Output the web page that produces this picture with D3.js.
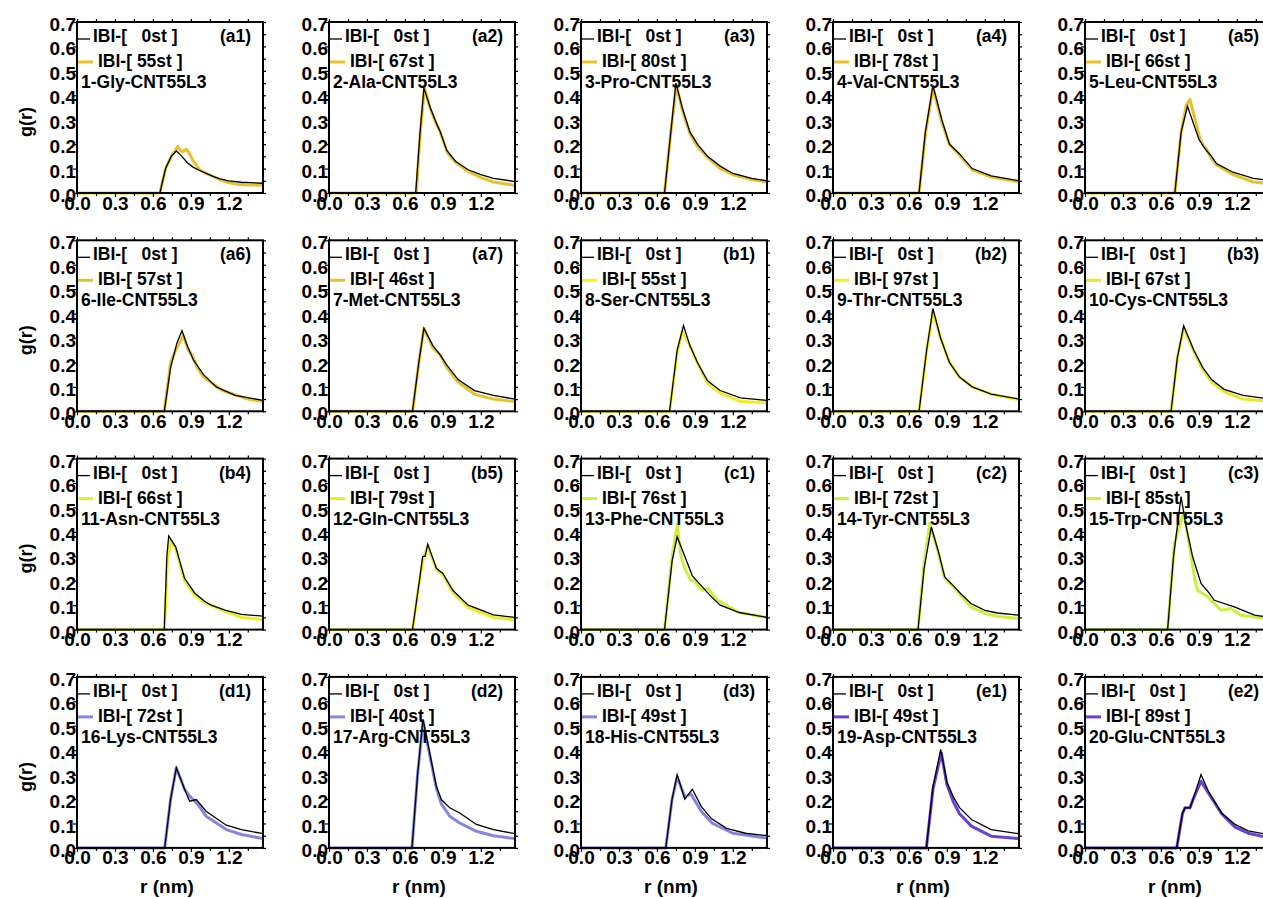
<!DOCTYPE html>
<html>
<head>
<meta charset="utf-8">
<script src="https://cdn.jsdelivr.net/npm/d3@7"></script>
<style>
  body { margin: 0; background: #fff; }
  svg { display: block; font-family: "Liberation Sans", Arial, sans-serif; }
</style>
</head>
<body>
<script>
const WIDTH = 1263;
const HEIGHT = 898;

// panel tags, names and IBI iteration counts
const panelTags = ["a1","a2","a3","a4","a5","a6","a7","b1","b2","b3",
                   "b4","b5","c1","c2","c3","d1","d2","d3","e1","e2"];
const panelNames = ["1-Gly","2-Ala","3-Pro","4-Val","5-Leu","6-Ile","7-Met","8-Ser","9-Thr","10-Cys",
                    "11-Asn","12-Gln","13-Phe","14-Tyr","15-Trp","16-Lys","17-Arg","18-His","19-Asp","20-Glu"];
const ibiSteps = [55,67,80,78,66,57,46,55,97,67,66,79,76,72,85,72,40,49,49,89];
const ibiColors = ["#e8c22c","#e8c22c","#e8c22c","#e8c22c","#e8c22c","#e8c22c","#e8c22c",
                   "#f2ee1c","#f0ee1e","#ece62a","#eaf020","#eaf020",
                   "#d0ee3c","#cdee3c","#c8f03c",
                   "#8686e0","#8686e0","#8686e0","#6a40d6","#6a40d6"];

const xTicks = [0, 0.3, 0.6, 0.9, 1.2];
const yTicks = [0, 0.1, 0.2, 0.3, 0.4, 0.5, 0.6, 0.7];

// g(r) of IBI-[0st], points [r, g]
const refCurves = [
  [[0,0],[0.655,0],[0.70,0.10],[0.745,0.15],[0.785,0.172],[0.82,0.155],[0.87,0.125],[0.92,0.105],[0.97,0.092],[1.02,0.08],[1.075,0.068],[1.13,0.058],[1.2,0.05],[1.3,0.044],[1.47,0.04]],
  [[0,0],[0.685,0],[0.72,0.25],[0.75,0.43],[0.80,0.35],[0.85,0.285],[0.88,0.25],[0.93,0.175],[1.0,0.13],[1.1,0.095],[1.2,0.075],[1.3,0.06],[1.47,0.047]],
  [[0,0],[0.66,0],[0.71,0.25],[0.75,0.45],[0.80,0.35],[0.86,0.25],[0.92,0.2],[1.0,0.15],[1.1,0.11],[1.2,0.08],[1.35,0.06],[1.47,0.05]],
  [[0,0],[0.68,0],[0.73,0.25],[0.79,0.44],[0.86,0.3],[0.92,0.2],[1.0,0.16],[1.1,0.1],[1.25,0.07],[1.47,0.05]],
  [[0,0],[0.71,0],[0.76,0.25],[0.81,0.355],[0.86,0.28],[0.9,0.22],[0.95,0.18],[1.0,0.15],[1.04,0.12],[1.17,0.085],[1.33,0.06],[1.47,0.05]],
  [[0,0],[0.69,0],[0.74,0.18],[0.79,0.28],[0.83,0.33],[0.87,0.27],[0.92,0.21],[1.0,0.15],[1.1,0.1],[1.25,0.065],[1.47,0.045]],
  [[0,0],[0.66,0],[0.71,0.2],[0.75,0.34],[0.82,0.27],[0.88,0.23],[0.93,0.19],[1.02,0.13],[1.15,0.085],[1.3,0.065],[1.47,0.05]],
  [[0,0],[0.70,0],[0.76,0.25],[0.81,0.351],[0.86,0.27],[0.92,0.2],[1.0,0.125],[1.1,0.085],[1.26,0.055],[1.47,0.045]],
  [[0,0],[0.68,0],[0.74,0.25],[0.79,0.42],[0.85,0.3],[0.92,0.2],[1.0,0.14],[1.1,0.1],[1.25,0.07],[1.47,0.05]],
  [[0,0],[0.68,0],[0.73,0.22],[0.78,0.35],[0.86,0.25],[0.93,0.18],[1.0,0.13],[1.1,0.09],[1.25,0.065],[1.47,0.05]],
  [[0,0],[0.69,0],[0.71,0.3],[0.725,0.383],[0.78,0.339],[0.85,0.21],[0.93,0.15],[1.01,0.115],[1.06,0.10],[1.17,0.08],[1.3,0.062],[1.47,0.055]],
  [[0,0],[0.66,0],[0.72,0.22],[0.74,0.3],[0.76,0.3],[0.78,0.35],[0.85,0.25],[0.9,0.23],[0.98,0.16],[1.1,0.1],[1.3,0.06],[1.47,0.05]],
  [[0,0],[0.66,0],[0.72,0.28],[0.76,0.38],[0.82,0.3],[0.88,0.22],[0.95,0.18],[1.02,0.14],[1.1,0.1],[1.25,0.07],[1.47,0.05]],
  [[0,0],[0.672,0],[0.72,0.25],[0.777,0.42],[0.83,0.325],[0.883,0.216],[0.96,0.175],[1.01,0.147],[1.09,0.107],[1.2,0.079],[1.3,0.068],[1.47,0.059]],
  [[0,0],[0.653,0],[0.70,0.3],[0.759,0.544],[0.80,0.42],[0.851,0.298],[0.917,0.189],[0.98,0.15],[1.022,0.12],[1.18,0.093],[1.34,0.059],[1.47,0.05]],
  [[0,0],[0.693,0],[0.74,0.2],[0.785,0.328],[0.851,0.239],[0.89,0.191],[0.943,0.198],[1.02,0.15],[1.18,0.093],[1.3,0.075],[1.47,0.058]],
  [[0,0],[0.656,0],[0.70,0.3],[0.743,0.526],[0.796,0.389],[0.848,0.253],[0.888,0.198],[0.954,0.164],[1.033,0.143],[1.165,0.096],[1.3,0.075],[1.47,0.058]],
  [[0,0],[0.67,0],[0.72,0.2],[0.76,0.3],[0.82,0.2],[0.88,0.24],[0.95,0.17],[1.03,0.12],[1.15,0.08],[1.3,0.06],[1.47,0.05]],
  [[0,0],[0.738,0],[0.79,0.25],[0.851,0.403],[0.90,0.27],[0.95,0.21],[1.0,0.165],[1.094,0.116],[1.25,0.075],[1.47,0.058]],
  [[0,0],[0.725,0],[0.77,0.14],[0.79,0.164],[0.83,0.164],[0.855,0.2],[0.917,0.30],[0.975,0.232],[1.08,0.143],[1.186,0.096],[1.29,0.07],[1.47,0.052]]
];

// g(r) of IBI-[Nst], points [r, g]
const ibiCurves = [
  [[0,0],[0.655,0],[0.70,0.10],[0.745,0.15],[0.77,0.17],[0.795,0.19],[0.815,0.175],[0.835,0.168],[0.865,0.18],[0.885,0.165],[0.92,0.13],[0.97,0.095],[1.02,0.08],[1.075,0.068],[1.13,0.055],[1.18,0.045],[1.25,0.037],[1.35,0.033],[1.47,0.032]],
  [[0,0],[0.69,0],[0.72,0.24],[0.755,0.43],[0.80,0.345],[0.85,0.28],[0.875,0.255],[0.935,0.165],[1.0,0.125],[1.1,0.088],[1.2,0.063],[1.3,0.045],[1.47,0.031]],
  [[0,0],[0.66,0],[0.71,0.25],[0.755,0.44],[0.80,0.34],[0.86,0.245],[0.92,0.19],[1.0,0.145],[1.1,0.1],[1.2,0.075],[1.35,0.055],[1.47,0.045]],
  [[0,0],[0.68,0],[0.73,0.24],[0.79,0.43],[0.86,0.29],[0.92,0.2],[1.0,0.155],[1.1,0.095],[1.25,0.065],[1.47,0.045]],
  [[0,0],[0.71,0],[0.76,0.25],[0.80,0.36],[0.83,0.383],[0.87,0.3],[0.91,0.22],[0.935,0.195],[0.96,0.18],[1.0,0.14],[1.04,0.115],[1.17,0.075],[1.33,0.045],[1.47,0.038]],
  [[0,0],[0.69,0],[0.74,0.2],[0.78,0.25],[0.84,0.31],[0.88,0.25],[0.91,0.23],[0.95,0.18],[1.0,0.14],[1.15,0.085],[1.35,0.05],[1.47,0.04]],
  [[0,0],[0.66,0],[0.71,0.2],[0.75,0.34],[0.82,0.26],[0.88,0.23],[0.93,0.18],[1.02,0.12],[1.15,0.07],[1.3,0.05],[1.47,0.04]],
  [[0,0],[0.70,0],[0.76,0.24],[0.80,0.328],[0.86,0.27],[0.92,0.198],[1.0,0.116],[1.1,0.075],[1.26,0.04],[1.47,0.035]],
  [[0,0],[0.68,0],[0.74,0.25],[0.79,0.41],[0.85,0.3],[0.92,0.2],[1.0,0.14],[1.1,0.1],[1.25,0.07],[1.47,0.048]],
  [[0,0],[0.68,0],[0.73,0.22],[0.78,0.34],[0.86,0.245],[0.93,0.17],[1.0,0.12],[1.1,0.08],[1.25,0.05],[1.47,0.04]],
  [[0,0],[0.69,0],[0.715,0.28],[0.74,0.366],[0.78,0.33],[0.85,0.2],[0.93,0.14],[1.01,0.11],[1.06,0.1],[1.17,0.075],[1.3,0.05],[1.47,0.04]],
  [[0,0],[0.66,0],[0.72,0.22],[0.75,0.3],[0.78,0.34],[0.85,0.245],[0.9,0.225],[0.98,0.15],[1.1,0.09],[1.3,0.05],[1.47,0.04]],
  [[0,0],[0.66,0],[0.72,0.3],[0.76,0.43],[0.79,0.3],[0.82,0.25],[0.87,0.2],[0.9,0.2],[0.92,0.18],[0.96,0.16],[1.0,0.17],[1.08,0.12],[1.25,0.07],[1.47,0.05]],
  [[0,0],[0.672,0],[0.72,0.27],[0.764,0.434],[0.83,0.32],[0.883,0.21],[0.96,0.17],[1.01,0.14],[1.09,0.093],[1.2,0.066],[1.3,0.055],[1.47,0.045]],
  [[0,0],[0.653,0],[0.706,0.352],[0.78,0.482],[0.83,0.33],[0.87,0.2],[0.89,0.161],[0.97,0.134],[1.075,0.079],[1.154,0.086],[1.233,0.059],[1.34,0.052],[1.47,0.045]],
  [[0,0],[0.693,0],[0.74,0.2],[0.785,0.328],[0.851,0.239],[0.89,0.212],[0.955,0.178],[1.02,0.13],[1.18,0.075],[1.3,0.055],[1.47,0.038]],
  [[0,0],[0.656,0],[0.70,0.3],[0.743,0.52],[0.796,0.38],[0.848,0.245],[0.888,0.18],[0.954,0.13],[1.033,0.102],[1.165,0.068],[1.3,0.05],[1.47,0.038]],
  [[0,0],[0.67,0],[0.72,0.2],[0.76,0.29],[0.82,0.21],[0.87,0.22],[0.95,0.15],[1.04,0.1],[1.2,0.06],[1.47,0.04]],
  [[0,0],[0.738,0],[0.79,0.24],[0.856,0.389],[0.90,0.26],[0.95,0.19],[1.0,0.14],[1.094,0.089],[1.25,0.048],[1.47,0.038]],
  [[0,0],[0.725,0],[0.77,0.14],[0.79,0.164],[0.83,0.164],[0.855,0.2],[0.917,0.273],[0.975,0.225],[1.08,0.14],[1.186,0.085],[1.29,0.06],[1.47,0.04]]
];

const PLOT_W = 186;
const PLOT_H = 171;
const COL_LEFT = 77, COL_STEP = 252;
const ROW_BOTTOM = 193, ROW_STEP = 218.3;

function setup(){
    let svg = d3.select("body")
        .append("svg")
        .attr("width",WIDTH)
        .attr("height",HEIGHT);

    let x = d3.scaleLinear().domain([0,1.47]).range([0,PLOT_W]);
    let y = d3.scaleLinear().domain([0,0.7]).range([PLOT_H,0]);
    let line = d3.line().x(d => x(d[0])).y(d => y(d[1]));

    panelTags.forEach((tag,i) => {
        let col = i % 5, row = Math.floor(i / 5);
        let left = COL_LEFT + col*COL_STEP;
        let top = ROW_BOTTOM + row*ROW_STEP - PLOT_H;
        let g = svg.append("g").attr("transform",`translate(${left},${top})`);

        // curves
        g.append("path")
            .attr("d",line(ibiCurves[i]))
            .attr("fill","none")
            .attr("stroke",ibiColors[i])
            .attr("stroke-width",3)
            .attr("stroke-linejoin","round");
        g.append("path")
            .attr("d",line(refCurves[i]))
            .attr("fill","none")
            .attr("stroke","#000")
            .attr("stroke-width",1.3);

        // axes
        let minorX = d3.range(0.15,1.47,0.3);
        let minorY = d3.range(0.05,0.7,0.1);
        let ax = g.append("g").attr("transform",`translate(0,${PLOT_H})`)
            .call(d3.axisBottom(x).tickValues(xTicks).tickSize(4).tickSizeOuter(0).tickPadding(-1).tickFormat(d3.format(".1f")));
        let ay = g.append("g")
            .call(d3.axisLeft(y).tickValues(yTicks).tickSize(4).tickSizeOuter(0).tickPadding(-3).tickFormat(d3.format(".1f")));
        g.append("g").attr("transform",`translate(0,${PLOT_H})`)
            .call(d3.axisBottom(x).tickValues(minorX).tickSize(3).tickFormat(""));
        g.append("g")
            .call(d3.axisTop(x).tickValues(xTicks.concat(minorX)).tickSize(3).tickFormat(""));
        g.append("g").attr("transform",`translate(${PLOT_W},0)`)
            .call(d3.axisRight(y).tickValues(yTicks.concat(minorY)).tickSize(3).tickFormat(""));
        g.selectAll(".domain").remove();
        g.selectAll(".tick line").attr("stroke","#000").attr("stroke-width",1.2);
        [ax,ay].forEach(a => a.selectAll("text")
            .attr("fill","#000")
            .style("font-size","19px")
            .style("font-weight","bold")
            .style("font-family","'Liberation Sans', Arial, sans-serif"));
        ay.selectAll("text").attr("dy","0.45em");

        g.append("rect")
            .attr("width",PLOT_W)
            .attr("height",PLOT_H)
            .attr("fill","none")
            .attr("stroke","#000")
            .attr("stroke-width",2);

        // legend
        g.append("line").attr("x1",1).attr("x2",13).attr("y1",17).attr("y2",17)
            .attr("stroke","#000").attr("stroke-width",1.3);
        g.append("text").attr("x",16).attr("y",20)
            .style("white-space","pre")
            .style("font-size","17.5px").style("font-weight","bold")
            .text("IBI-[   0st ]");
        g.append("line").attr("x1",1).attr("x2",16).attr("y1",40).attr("y2",40)
            .attr("stroke",ibiColors[i]).attr("stroke-width",3);
        g.append("text").attr("x",21).attr("y",45)
            .style("white-space","pre")
            .style("font-size","17.5px").style("font-weight","bold")
            .text(`IBI-[ ${ibiSteps[i]}st ]`);
        g.append("text").attr("x",4).attr("y",66)
            .style("font-size","17.5px").style("font-weight","bold")
            .text(`${panelNames[i]}-CNT55L3`);
        g.append("text").attr("x",174).attr("y",20)
            .attr("text-anchor","end")
            .style("font-size","17.5px").style("font-weight","bold")
            .text(`(${tag})`);

        if(col === 0){
            svg.append("text")
                .attr("transform",`translate(32,${top+100}) rotate(-90)`)
                .attr("text-anchor","middle")
                .style("font-size","18px").style("font-weight","bold")
                .text("g(r)");
        }
        if(row === 3){
            svg.append("text")
                .attr("x",left+90).attr("y",893)
                .attr("text-anchor","middle")
                .style("font-size","19px").style("font-weight","bold")
                .text("r (nm)");
        }
    });
}

window.addEventListener("load",setup);
</script>
</body>
</html>
